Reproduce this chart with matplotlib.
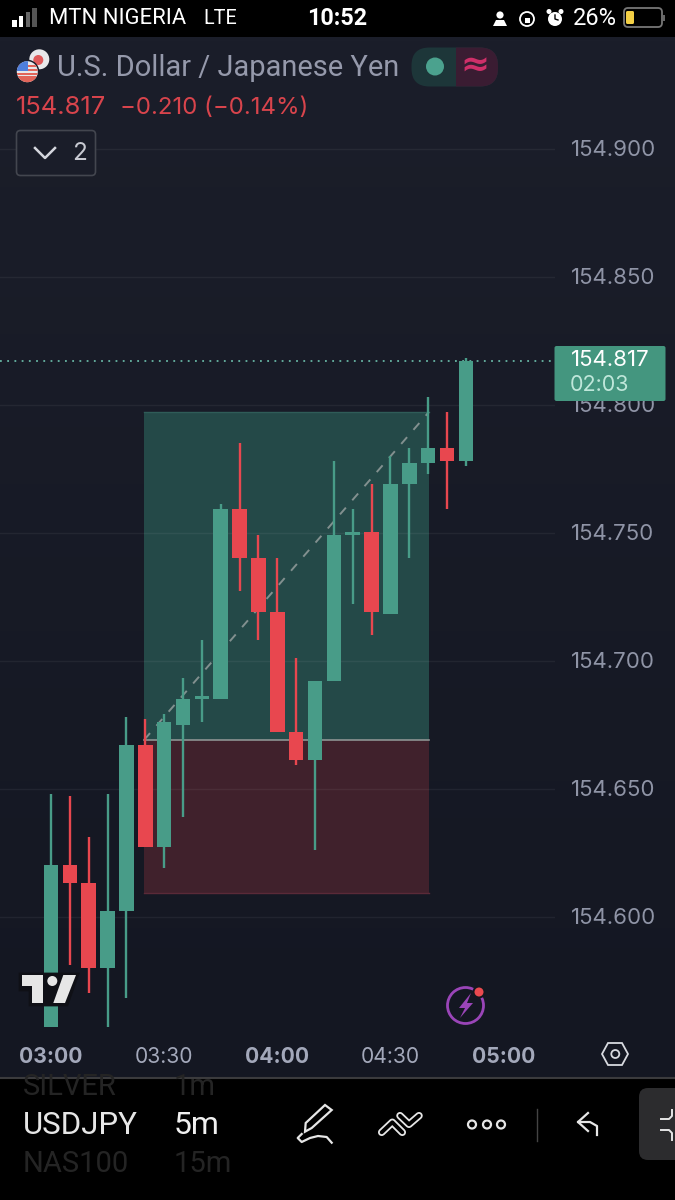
import numpy as np
import matplotlib
matplotlib.use("Agg")
import matplotlib.pyplot as plt
from matplotlib.patches import Rectangle, Circle, Polygon, FancyBboxPatch

# ---------- data ----------
opens  = [154.557,154.620,154.613,154.580,154.602,154.667,154.627,154.675,154.685,154.685,154.759,154.740,154.719,154.672,154.661,154.692,154.749,154.750,154.718,154.769,154.777,154.783,154.778]
highs  = [154.648,154.647,154.631,154.648,154.678,154.677,154.679,154.693,154.708,154.761,154.785,154.749,154.740,154.701,154.692,154.778,154.759,154.769,154.780,154.783,154.803,154.797,154.818]
lows   = [154.557,154.581,154.570,154.557,154.568,154.627,154.619,154.639,154.676,154.685,154.727,154.708,154.672,154.659,154.626,154.692,154.722,154.710,154.718,154.740,154.773,154.759,154.776]
closes = [154.620,154.613,154.580,154.602,154.667,154.627,154.676,154.685,154.686,154.759,154.740,154.719,154.672,154.661,154.692,154.749,154.750,154.719,154.769,154.777,154.783,154.778,154.817]
price_ticks = [154.600,154.650,154.700,154.750,154.800,154.850,154.900]
time_positions = [0,6,12,18,24]
time_labels = ["03:00","03:30","04:00","04:30","05:00"]
last_price = 154.817
pos_entry, pos_target, pos_stop = 154.669, 154.797, 154.609
pos_start, pos_end = 4.94, 20.03

W, H = 675, 1200
GREEN, RED = "#489c88", "#e8474f"
NUM = ["Inter", "DejaVu Sans"]
plt.rcParams["font.family"] = ["Roboto", "DejaVu Sans"]

fig = plt.figure(figsize=(W/100, H/100), dpi=100, facecolor="black")

# background gradient
bg = fig.add_axes([0, 0, 1, 1], zorder=0)
bg.set_axis_off()
grad = np.linspace(0, 1, 256)[:, None]
c0, c1 = np.array([27, 30, 42])/255, np.array([20, 23, 34])/255
img = (c0[None, None, :]*(1-grad[:, :, None]) + c1[None, None, :]*grad[:, :, None])
bg.imshow(img, extent=[0, W, 1078, 37], aspect="auto")
bg.set_xlim(0, W); bg.set_ylim(H, 0)

# ---------- main chart ----------
L, R, T, B = 0, 555, 37, 1037
ax = fig.add_axes([L/W, 1-B/H, (R-L)/W, (B-T)/H], zorder=1)
ax.patch.set_alpha(0)
pxx, pxy = 18.86, 2560.0
ax.set_xlim((L-51)/pxx, (R-51)/pxx)
ax.set_ylim(154.9-(B-148.5)/pxy, 154.9+(148.5-T)/pxy)
for s in ax.spines.values():
    s.set_visible(False)

ax.set_yticks(price_ticks)
ax.set_yticklabels([f"{p:.3f}" for p in price_ticks], family=NUM)
ax.yaxis.tick_right()
ax.tick_params(axis="y", length=0, pad=11.5, labelsize=16, labelcolor="#8f94a6")
ax.set_xticks(time_positions)
ax.set_xticklabels(time_labels, family=NUM)
ax.tick_params(axis="x", length=0, pad=7, labelsize=15.2, labelcolor="#a3a8ba")
for i, lab in enumerate(ax.get_xticklabels()):
    lab.set_fontweight("bold" if i % 2 == 0 else "normal")
ax.set_axisbelow(False)
ax.yaxis.grid(True, color="#ffffff", alpha=0.055, lw=1.0, zorder=2)

# long position tool
ax.fill_between([pos_start, pos_end], pos_entry, pos_target, color="#244948", lw=0, zorder=1)
ax.fill_between([pos_start, pos_end], pos_stop, pos_entry, color="#40212c", lw=0, zorder=1)
ax.plot([pos_start, pos_end], [pos_target]*2, color="#2f5c58", lw=1, zorder=1.5)
ax.plot([pos_start, pos_end], [pos_stop]*2, color="#5a2a38", lw=1, zorder=1.5)
ax.plot([pos_start, pos_end], [pos_entry]*2, color="#8d9493", lw=1.2, zorder=1.6)
ax.plot([pos_start, pos_end], [pos_entry, pos_target], color="#82908f", lw=1.4,
        dashes=(4.6, 5), zorder=1.7)

# last price line
ax.axhline(last_price, color="#67b5a4", lw=1.3, dashes=(1, 3), zorder=2)

# candles
o, h, l, c = map(np.array, (opens, highs, lows, closes))
colors = [GREEN if a >= b else RED for a, b in zip(c, o)]
xs = np.arange(len(o))
ax.vlines(xs, l, h, colors=colors, lw=1.7, zorder=3)
ax.bar(xs, np.abs(c-o), bottom=np.minimum(o, c), width=0.77, color=colors, lw=0, zorder=4)

# ---------- overlay UI (pixel coordinates) ----------
ui = fig.add_axes([0, 0, 1, 1], zorder=5)
ui.set_axis_off()
ui.patch.set_alpha(0)
ui.set_xlim(0, W); ui.set_ylim(H, 0)
def T_(x, y, s, size, color, ha="left", weight="normal", **kw):
    return ui.text(x, y, s, fontsize=size, color=color, ha=ha, va="center", fontweight=weight, **kw)

# status bar
ui.add_patch(Rectangle((0, 0), W, 36, color="black", lw=0))
for i, (hh, col) in enumerate(zip([7, 11, 15, 19], ["#fff", "#fff", "#666", "#555"])):
    ui.add_patch(Rectangle((12+i*6.8, 27-hh), 4.6, hh, color=col, lw=0))
T_(49, 18.5, "MTN NIGERIA", 15.8, "white")
T_(203, 18.5, "LTE", 14.2, "white")
T_(337.5, 18.5, "10:52", 16.8, "white", ha="center", weight="bold")
T_(573, 18.5, "26%", 17, "white")
# person, lock, alarm
ui.add_patch(Circle((500, 15), 3.6, color="white", lw=0))
ui.add_patch(Polygon([[493, 26], [496, 20], [504, 20], [507, 26]], color="white", lw=0))
ui.add_patch(Circle((527, 19), 7, fc="none", ec="white", lw=1.3))
ui.add_patch(Rectangle((524.5, 17.5), 5, 5, color="white", lw=0))
ui.add_patch(Circle((555, 19), 7, color="white", lw=0))
ui.plot([555, 555, 558], [15, 19, 20], color="black", lw=1)
ui.add_patch(Circle((549, 11.5), 2.5, color="white", lw=0))
ui.add_patch(Circle((561, 11.5), 2.5, color="white", lw=0))
ui.add_patch(FancyBboxPatch((624, 8), 38, 19, boxstyle="round,pad=0,rounding_size=4",
                            fc="none", ec="#777", lw=1.3))
ui.add_patch(FancyBboxPatch((626, 11), 8, 13, boxstyle="round,pad=0,rounding_size=1.5",
                            fc="#f3cf45", ec="none"))
ui.add_patch(Rectangle((663, 14.5), 1.5, 6, color="#666", lw=0))

# flags
ui.add_patch(Circle((39.3, 59.3), 10, color="#e8e8ea", lw=0))
ui.add_patch(Circle((38.3, 60), 5, color="#e05a5a", lw=0))
ui.add_patch(Circle((27.3, 71.7), 12, color="#1a1d29", lw=0))
flag = Circle((27.3, 71.7), 10.5, color="#e8e8ea", lw=0)
ui.add_patch(flag)
for yy, hh in ((64.5, 2), (68.5, 2), (72.5, 2), (76, 8)):
    ui.add_patch(Rectangle((17, yy), 21, hh, color="#e2655a", lw=0)).set_clip_path(flag)
ui.add_patch(Rectangle((16, 60), 11.5, 11, color="#4f7fdc", lw=0)).set_clip_path(flag)

T_(57, 68.5, "U.S. Dollar / Japanese Yen", 20.9, "#9599ab")
T_(16, 108, "154.817", 18.4, "#d8444c", family=NUM)
T_(119.5, 108, "\u22120.210 (\u22120.14%)", 17.3, "#d8444c", family=NUM)

# status pill
ui.add_patch(FancyBboxPatch((411.5, 47.5), 86.5, 39, boxstyle="round,pad=0,rounding_size=18",
                            fc="#1d3639", ec="none"))
p2 = FancyBboxPatch((411.5, 47.5), 86.5, 39, boxstyle="round,pad=0,rounding_size=18",
                    fc="#3a1c32", ec="none")
ui.add_patch(p2)
p2.set_clip_path(Rectangle((455.5, 40), 50, 50, transform=ui.transData))
ui.add_patch(Circle((435, 66.5), 9, color="#4ba28e", lw=0))
T_(475, 65.5, "\u2248", 25, "#cf2f69", ha="center", family="DejaVu Sans", weight="bold")

# collapse button
ui.add_patch(FancyBboxPatch((16.5, 130.5), 79, 45, boxstyle="round,pad=0,rounding_size=4",
                            fc="#1a1d29", ec="#43464f", lw=1.2))
ui.plot([35, 45, 55], [148, 158, 148], color="#d5d7de", lw=1.8)
T_(72, 154, "2", 17.5, "#c8cad2", family=NUM)

# price tag
ui.add_patch(FancyBboxPatch((554.5, 346), 111, 55, boxstyle="round,pad=0,rounding_size=2",
                            fc="#44967f", ec="none"))
T_(571, 360.5, "154.817", 16, "white", family=NUM)
T_(570, 385, "02:03", 15.5, "#bfe7da", family=NUM)

# TradingView logo
ui.add_patch(Polygon([[20, 974], [78, 974], [67, 1005], [30, 1005], [30, 990], [20, 990]],
                     fc="#0f1016", ec="#0f1016", lw=2, zorder=5.9))
for pts in ([[21.7, 975], [43, 975], [43, 1003], [32.3, 1003], [32.3, 985.7], [21.7, 985.7]],
            [[63.3, 975], [76, 975], [65, 1003], [53.3, 1003]]):
    ui.add_patch(Polygon(pts, fc="#e6e6e6", ec="none", zorder=6))
ui.add_patch(Circle((52.3, 981), 5, fc="#e6e6e6", ec="none", zorder=6))

# lightning icon
ui.add_patch(Circle((465.5, 1005.5), 18, fc="none", ec="#9a45b8", lw=2))
ui.add_patch(Polygon([[471, 993], [459, 1008], [465, 1008], [460, 1018], [473, 1003], [467, 1003]],
                     fc="#9a45b8", ec="none"))
ui.add_patch(Circle((479, 992), 6.5, fc="#14171f", ec="none"))
ui.add_patch(Circle((479, 992), 4.5, fc="#ea4a4f", ec="none"))

# hexagon
ui.add_patch(Polygon([[602, 1054], [608, 1043], [622, 1043], [628, 1054], [622, 1065], [608, 1065]],
                     fc="none", ec="#d8dae0", lw=1.3))
ui.add_patch(Circle((615.3, 1054), 4, fc="none", ec="#d8dae0", lw=1.3))

# bottom bar
ui.add_patch(Rectangle((0, 1078), W, 122, color="black", lw=0))
ui.plot([0, W], [1078, 1078], color="#3b3b3d", lw=1.5)
t1 = T_(23, 1087, "SILVER", 21, "#242424")
t2 = T_(174, 1087, "1m", 21, "#242424")
for t in (t1, t2):
    t.set_clip_path(Rectangle((0, 1079), W, 40, transform=ui.transData))
T_(23, 1126, "USDJPY", 22.5, "#e6e6e6")
T_(174, 1126, "5m", 23, "#f0f0f0")
T_(23, 1164, "NAS100", 21, "#242424")
T_(174, 1164, "15m", 21, "#242424")

# pen
ui.add_patch(Polygon([[305.7, 1123], [325, 1105], [331.7, 1110], [311.7, 1128], [305, 1131.7]],
                     fc="none", ec="#e6e6e6", lw=1.6))
ui.plot([301.7, 297.7, 301.7, 310, 318, 326.7, 331.7], [1134, 1138, 1142, 1138, 1136, 1137, 1142.7],
        color="#e6e6e6", lw=1.6)
# chevron icon
for zx, zy in (([381.7, 392.3, 402.3], [1132.3, 1122.3, 1132.3]),
               ([400, 409, 419], [1115.7, 1124.3, 1115.7])):
    ui.plot(zx, zy, color="#e6e6e6", lw=5.4, solid_capstyle="round", solid_joinstyle="round")
    ui.plot(zx, zy, color="black", lw=2.8, solid_capstyle="round", solid_joinstyle="round")
# dots
for xx in (472, 487, 501):
    ui.add_patch(Circle((xx, 1124.5), 4, fc="none", ec="#e6e6e6", lw=1.6))
ui.plot([536.5, 536.5], [1109, 1141], color="#444", lw=1)
# undo
ui.plot([588, 578, 588], [1113, 1122, 1131], color="#e6e6e6", lw=1.6)
ui.plot([578, 590, 597, 597], [1122, 1122, 1126, 1135], color="#e6e6e6", lw=1.6)
# right tab
ui.add_patch(FancyBboxPatch((639, 1088), 60, 72, boxstyle="round,pad=0,rounding_size=9",
                            fc="#2c2c2e", ec="none"))
ui.plot([672, 672, 669, 661], [1110, 1116, 1119, 1119], color="#e6e6e6", lw=1.4)
ui.plot([661, 669, 672, 672], [1130, 1130, 1133, 1140], color="#e6e6e6", lw=1.4)

fig.savefig("out.png", dpi=100, facecolor="black")
